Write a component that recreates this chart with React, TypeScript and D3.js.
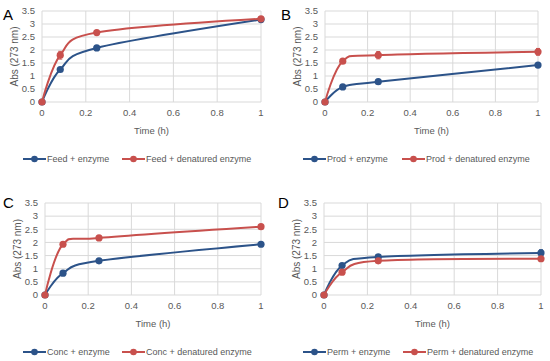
import React from "react";
import * as d3 from "d3";

const times = [0, 0.0833, 0.25, 1];
const xTicks = [0, 0.2, 0.4, 0.6, 0.8, 1];
const yTicks = [0, 0.5, 1, 1.5, 2, 2.5, 3, 3.5];

const feedEnzyme = [0, 1.25, 2.08, 3.17];
const feedDenatured = [0, 1.8, 2.67, 3.2];
const feedDenErr = [0, 0.15, 0.05, 0.05];
const feedEnzErr = [0, 0.05, 0.04, 0.04];

const prodEnzyme = [0, 0.58, 0.78, 1.42];
const prodDenatured = [0, 1.57, 1.8, 1.93];
const prodEnzErr = [0, 0.03, 0.03, 0.04];
const prodDenErr = [0, 0.05, 0.14, 0.13];

const concEnzyme = [0, 0.83, 1.3, 1.93];
const concDenatured = [0, 1.93, 2.17, 2.6];
const concEnzErr = [0, 0.04, 0.04, 0.04];
const concDenErr = [0, 0.04, 0.04, 0.04];

const permEnzyme = [0, 1.12, 1.45, 1.6];
const permDenatured = [0, 0.87, 1.3, 1.38];
const permEnzErr = [0, 0.04, 0.04, 0.12];
const permDenErr = [0, 0.04, 0.04, 0.08];

const panelLetters = ["A", "B", "C", "D"];
const samples = ["Feed", "Prod", "Conc", "Perm"];

const BLUE = "#2c5389";
const RED = "#c8504d";
const GRID = "#d9d9d9";
const TEXT = "#595959";
const FONT = "'Liberation Sans', 'DejaVu Sans', sans-serif";

type Layout = { x0: number; x1: number; yb: number; yt: number; letterX: number; letterY: number; leg1: number; leg2: number; legY: number };

const layouts: Layout[] = [
  { x0: 42, x1: 261, yb: 102, yt: 11, letterX: 3, letterY: 20, leg1: 23, leg2: 122, legY: 159 },
  { x0: 325, x1: 538, yb: 102, yt: 11, letterX: 281, letterY: 20, leg1: 303, leg2: 402, legY: 159 },
  { x0: 45, x1: 261, yb: 295, yt: 203, letterX: 3, letterY: 208, leg1: 23, leg2: 122, legY: 352 },
  { x0: 324, x1: 541, yb: 295, yt: 203, letterX: 278, letterY: 208, leg1: 303, leg2: 403, legY: 352 },
];

const enzymeSeries = [feedEnzyme, prodEnzyme, concEnzyme, permEnzyme];
const denaturedSeries = [feedDenatured, prodDenatured, concDenatured, permDenatured];
const enzymeErrs = [feedEnzErr, prodEnzErr, concEnzErr, permEnzErr];
const denaturedErrs = [feedDenErr, prodDenErr, concDenErr, permDenErr];

function Panel({ i }: { i: number }) {
  const L = layouts[i];
  const x = d3.scaleLinear().domain([0, 1]).range([L.x0, L.x1]);
  const y = d3.scaleLinear().domain([0, 3.5]).range([L.yb, L.yt]);
  const line = d3
    .line<[number, number]>()
    .x((d) => x(d[0]))
    .y((d) => y(d[1]))
    .curve(d3.curveCardinal.tension(0));

  const series = [
    { vals: enzymeSeries[i], errs: enzymeErrs[i], color: BLUE, name: `${samples[i]} + enzyme` },
    { vals: denaturedSeries[i], errs: denaturedErrs[i], color: RED, name: `${samples[i]} + denatured enzyme` },
  ];
  const legXs = [L.leg1, L.leg2];
  const midY = (L.yb + L.yt) / 2;

  return (
    <g>
      {yTicks.map((t) => (
        <line key={"h" + t} x1={L.x0} x2={L.x1} y1={y(t)} y2={y(t)} stroke={GRID} strokeWidth={1} />
      ))}
      {xTicks.map((t) => (
        <line key={"v" + t} x1={x(t)} x2={x(t)} y1={L.yt} y2={L.yb} stroke={GRID} strokeWidth={1} />
      ))}
      {yTicks.map((t) => (
        <text key={"yl" + t} x={L.x0 - 7} y={y(t)} dy="0.35em" textAnchor="end" fontSize={9.5} fill={TEXT} fontFamily={FONT}>
          {String(t)}
        </text>
      ))}
      {xTicks.map((t) => (
        <text key={"xl" + t} x={x(t)} y={L.yb + 14} textAnchor="middle" fontSize={9.5} fill={TEXT} fontFamily={FONT}>
          {String(t)}
        </text>
      ))}
      <text
        transform={`translate(${L.x0 - 28},${midY}) rotate(-90)`}
        textAnchor="middle"
        dy="0.35em"
        fontSize={10}
        fill={TEXT}
        fontFamily={FONT}
      >
        Abs (273 nm)
      </text>
      <text x={(L.x0 + L.x1) / 2} y={L.yb + 32} textAnchor="middle" fontSize={9.5} fill={TEXT} fontFamily={FONT}>
        Time (h)
      </text>
      <text x={L.letterX} y={L.letterY} fontSize={15} fill="#000" fontFamily={FONT}>
        {panelLetters[i]}
      </text>
      {series.map((s, k) => {
        const pts = times.map((t, j) => [t, s.vals[j]] as [number, number]);
        return (
          <g key={k}>
            <path d={line(pts) || ""} fill="none" stroke={s.color} strokeWidth={2} />
            {pts.map((p, j) => {
              const e = s.errs[j];
              const cx = x(p[0]);
              return e > 0.06 ? (
                <g key={"e" + j}>
                  <line x1={cx} x2={cx} y1={y(p[1] - e)} y2={y(p[1] + e)} stroke={s.color} strokeWidth={1} />
                  <line x1={cx - 2} x2={cx + 2} y1={y(p[1] - e)} y2={y(p[1] - e)} stroke={s.color} strokeWidth={1} />
                  <line x1={cx - 2} x2={cx + 2} y1={y(p[1] + e)} y2={y(p[1] + e)} stroke={s.color} strokeWidth={1} />
                </g>
              ) : null;
            })}
            {pts.map((p, j) => (
              <circle key={"c" + j} cx={x(p[0])} cy={y(p[1])} r={3.6} fill={s.color} />
            ))}
          </g>
        );
      })}
      {series.map((s, k) => (
        <g key={"lg" + k}>
          <line x1={legXs[k]} x2={legXs[k] + 23} y1={L.legY} y2={L.legY} stroke={s.color} strokeWidth={2} />
          <circle cx={legXs[k] + 11.5} cy={L.legY} r={3.3} fill={s.color} />
          <text x={legXs[k] + 24} y={L.legY} dy="0.35em" fontSize={9} fill={TEXT} fontFamily={FONT}>
            {s.name}
          </text>
        </g>
      ))}
    </g>
  );
}

export default function App() {
  return (
    <svg width={550} height={361} style={{ position: "absolute", left: 0, top: 0, background: "#fff" }}>
      <rect width={550} height={361} fill="#fff" />
      {[0, 1, 2, 3].map((i) => (
        <Panel key={i} i={i} />
      ))}
    </svg>
  );
}
